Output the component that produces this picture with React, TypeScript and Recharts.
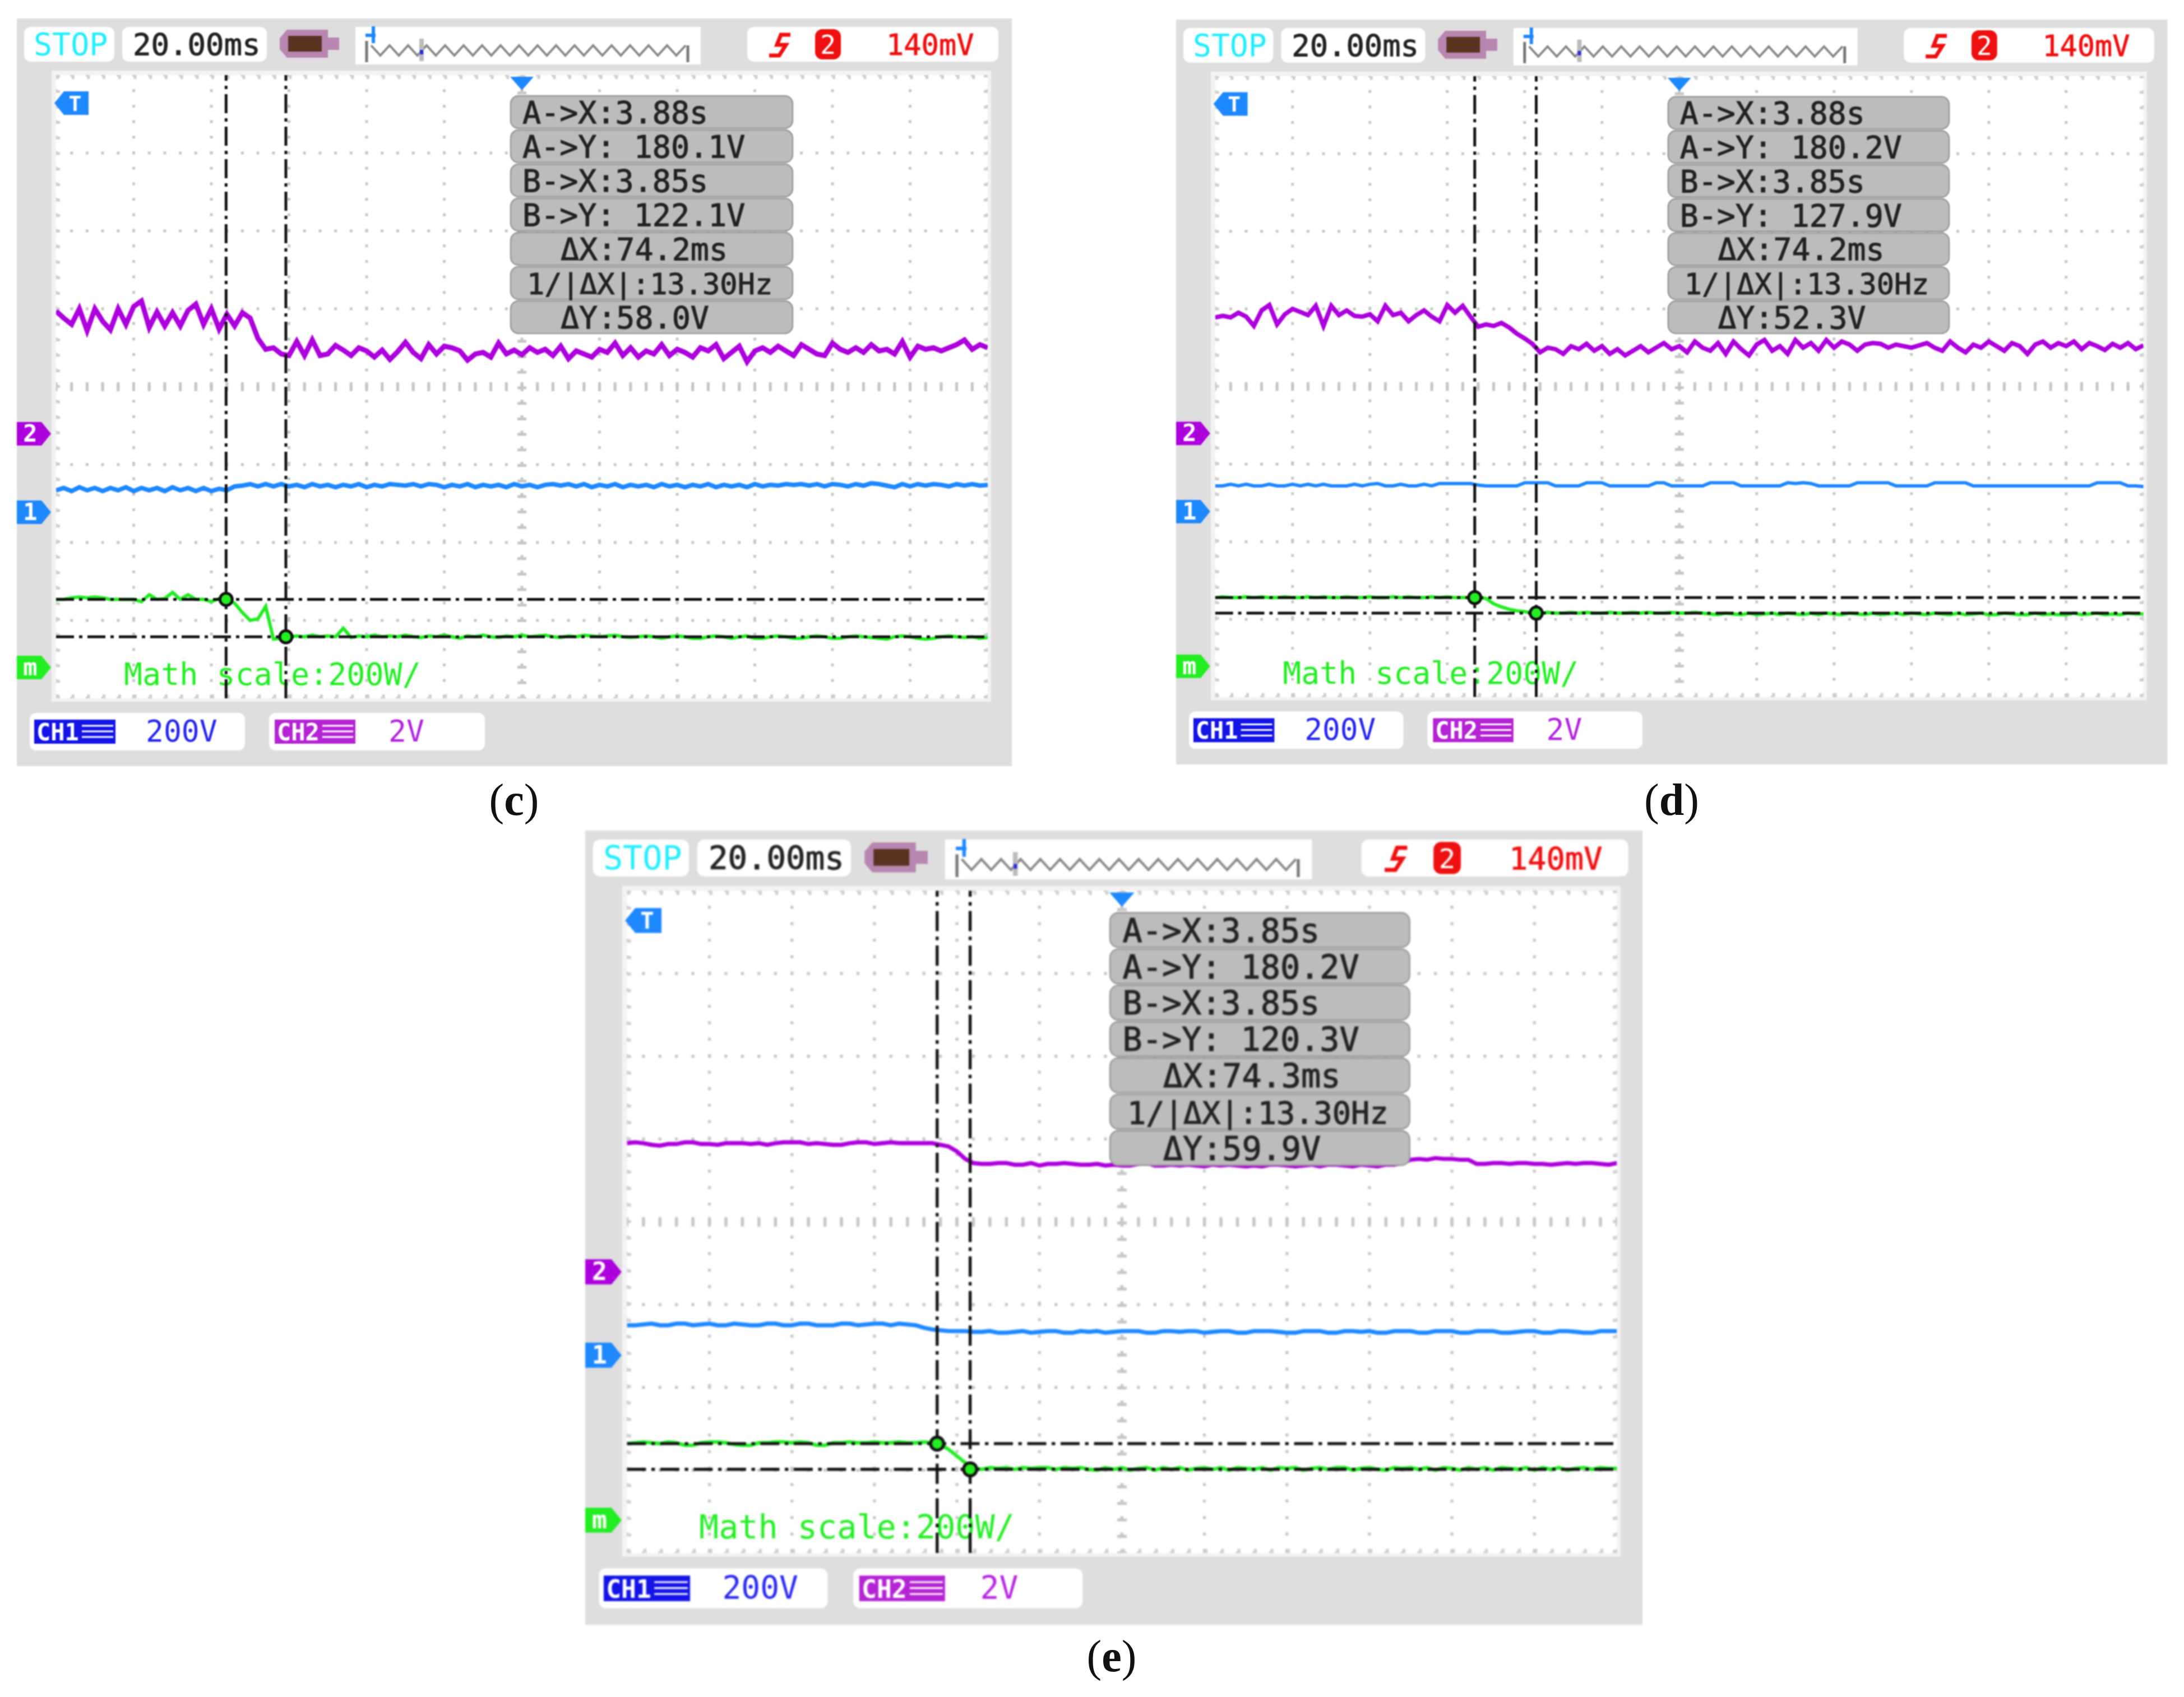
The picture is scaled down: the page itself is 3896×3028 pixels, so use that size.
import { LineChart, Line, XAxis, YAxis, CartesianGrid, ReferenceLine } from "recharts";

// all trace values are in screen divisions (12 x 8 scope grid), one sample per 0.1 div
const SAMPLES_PER_DIV = 10;
const xTicks = [0, 1, 2, 3, 4, 5, 6, 7, 8, 9, 10, 11, 12];
const yTicks = [0, 1, 2, 3, 4, 5, 6, 7, 8];

const cPurple = [
  4.97, 4.88, 4.8, 5.0, 4.72, 5.0, 4.84, 4.73, 5.0, 4.8,
  5.03, 5.1, 4.76, 4.96, 4.78, 4.95, 4.78, 4.98, 5.06, 4.8,
  5.0, 4.74, 4.93, 4.78, 4.95, 4.88, 4.62, 4.48, 4.5, 4.42,
  4.4, 4.58, 4.4, 4.6, 4.4, 4.42, 4.53, 4.47, 4.4, 4.5,
  4.46, 4.38, 4.47, 4.35, 4.45, 4.57, 4.44, 4.36, 4.54, 4.42,
  4.52, 4.5, 4.46, 4.34, 4.42, 4.44, 4.38, 4.56, 4.42, 4.47,
  4.41, 4.5, 4.44, 4.48, 4.4, 4.52, 4.36, 4.46, 4.42, 4.38,
  4.48, 4.44, 4.56, 4.4, 4.5, 4.38, 4.46, 4.42, 4.54, 4.4,
  4.48, 4.44, 4.38, 4.5, 4.46, 4.54, 4.36, 4.44, 4.52, 4.32,
  4.46, 4.5, 4.44, 4.52, 4.46, 4.4, 4.54, 4.48, 4.42, 4.4,
  4.56, 4.48, 4.44, 4.5, 4.44, 4.54, 4.46, 4.48, 4.42, 4.58,
  4.38, 4.52, 4.48, 4.5, 4.46, 4.5, 4.54, 4.6, 4.48, 4.54,
  4.5,
];
const cBlue = [
  2.67, 2.7, 2.66, 2.71, 2.67, 2.7, 2.66, 2.7, 2.67, 2.71,
  2.66, 2.7, 2.67, 2.7, 2.66, 2.71, 2.67, 2.7, 2.66, 2.7,
  2.66, 2.69, 2.67, 2.72, 2.73, 2.75, 2.72, 2.75, 2.72, 2.75,
  2.72, 2.74, 2.71, 2.75, 2.72, 2.74, 2.71, 2.74, 2.72, 2.75,
  2.71, 2.74, 2.72, 2.75, 2.74, 2.73, 2.75, 2.72, 2.75, 2.74,
  2.71, 2.74, 2.72, 2.75, 2.71, 2.74, 2.72, 2.74, 2.71, 2.75,
  2.72, 2.74, 2.71, 2.74, 2.75, 2.73, 2.75, 2.72, 2.75, 2.71,
  2.74, 2.72, 2.75, 2.71, 2.74, 2.72, 2.74, 2.71, 2.75, 2.72,
  2.74, 2.71, 2.74, 2.72, 2.75, 2.71, 2.74, 2.72, 2.74, 2.71,
  2.75, 2.72, 2.74, 2.73, 2.75, 2.74, 2.75, 2.73, 2.75, 2.72,
  2.75, 2.74, 2.72, 2.75, 2.73, 2.76, 2.75, 2.73, 2.71, 2.75,
  2.72, 2.75, 2.73, 2.75, 2.74, 2.72, 2.75, 2.73, 2.75, 2.73,
  2.74,
];
const cGreen = [
  1.27, 1.27, 1.29, 1.3, 1.29, 1.3, 1.29, 1.27, 1.27, 1.27,
  1.27, 1.24, 1.33, 1.27, 1.28, 1.36, 1.27, 1.33, 1.27, 1.27,
  1.24, 1.28, 1.27, 1.22, 1.1, 1.0, 1.02, 1.18, 0.76, 0.77,
  0.79, 0.8, 0.79, 0.81, 0.79, 0.8, 0.79, 0.9, 0.78, 0.8,
  0.79, 0.81, 0.79, 0.8, 0.79, 0.81, 0.79, 0.78, 0.8, 0.79,
  0.81, 0.79, 0.77, 0.8, 0.79, 0.81, 0.79, 0.78, 0.8, 0.79,
  0.81, 0.79, 0.8, 0.81, 0.79, 0.78, 0.8, 0.79, 0.81, 0.8,
  0.79, 0.8, 0.81, 0.79, 0.78, 0.79, 0.8, 0.79, 0.77, 0.79,
  0.8, 0.79, 0.77, 0.77, 0.79, 0.8, 0.79, 0.77, 0.79, 0.8,
  0.77, 0.77, 0.79, 0.8, 0.79, 0.77, 0.77, 0.79, 0.8, 0.79,
  0.77, 0.77, 0.79, 0.8, 0.79, 0.78, 0.77, 0.76, 0.79, 0.8,
  0.79, 0.77, 0.76, 0.77, 0.79, 0.8, 0.79, 0.78, 0.79, 0.77,
  0.78,
];

const dPurple = [
  4.89, 4.91, 4.89, 4.95, 4.9, 4.78, 4.98, 5.05, 4.8, 4.93,
  5.0, 4.96, 4.92, 5.04, 4.78, 5.04, 4.92, 4.98, 4.91, 4.9,
  4.93, 4.84, 5.04, 4.92, 4.95, 4.84, 4.92, 4.98, 4.9, 4.84,
  5.05, 4.95, 5.04, 4.9, 4.77, 4.8, 4.78, 4.82, 4.76, 4.68,
  4.62, 4.55, 4.44, 4.5, 4.48, 4.42, 4.52, 4.48, 4.55, 4.46,
  4.52, 4.42, 4.48, 4.4, 4.46, 4.52, 4.44, 4.5, 4.56, 4.48,
  4.52, 4.44, 4.58, 4.5, 4.46, 4.56, 4.42, 4.58, 4.48, 4.4,
  4.54, 4.6, 4.46, 4.52, 4.42, 4.6, 4.5, 4.56, 4.46, 4.6,
  4.5, 4.58, 4.54, 4.46, 4.54, 4.56, 4.55, 4.5, 4.54, 4.52,
  4.5, 4.53, 4.56, 4.5, 4.46, 4.58, 4.5, 4.44, 4.54, 4.5,
  4.58, 4.52, 4.46, 4.56, 4.52, 4.42, 4.54, 4.58, 4.5, 4.56,
  4.52, 4.58, 4.48, 4.56, 4.52, 4.47, 4.55, 4.5, 4.56, 4.48,
  4.53,
];
const dBlue = [
  2.72, 2.72, 2.74, 2.72, 2.74, 2.72, 2.72, 2.74, 2.72, 2.72,
  2.74, 2.72, 2.74, 2.72, 2.74, 2.72, 2.72, 2.72, 2.74, 2.72,
  2.74, 2.75, 2.72, 2.72, 2.74, 2.72, 2.72, 2.74, 2.72, 2.75,
  2.75, 2.75, 2.75, 2.75, 2.73, 2.72, 2.72, 2.72, 2.72, 2.72,
  2.76, 2.76, 2.76, 2.76, 2.72, 2.72, 2.72, 2.72, 2.76, 2.76,
  2.76, 2.72, 2.72, 2.72, 2.72, 2.72, 2.72, 2.76, 2.76, 2.72,
  2.72, 2.72, 2.72, 2.72, 2.76, 2.76, 2.76, 2.76, 2.72, 2.72,
  2.72, 2.72, 2.72, 2.72, 2.76, 2.75, 2.76, 2.75, 2.72, 2.72,
  2.72, 2.72, 2.72, 2.76, 2.76, 2.76, 2.76, 2.76, 2.72, 2.72,
  2.72, 2.72, 2.72, 2.76, 2.76, 2.76, 2.76, 2.76, 2.72, 2.72,
  2.72, 2.72, 2.72, 2.72, 2.72, 2.72, 2.72, 2.72, 2.72, 2.72,
  2.72, 2.72, 2.72, 2.72, 2.76, 2.76, 2.76, 2.76, 2.72, 2.72,
  2.71,
];
const dGreen = [
  1.28, 1.29, 1.28, 1.28, 1.29, 1.28, 1.29, 1.28, 1.28, 1.29,
  1.28, 1.28, 1.29, 1.28, 1.29, 1.28, 1.28, 1.29, 1.28, 1.28,
  1.29, 1.28, 1.28, 1.29, 1.28, 1.29, 1.28, 1.28, 1.29, 1.28,
  1.29, 1.28, 1.28, 1.28, 1.28, 1.27, 1.2, 1.16, 1.13, 1.11,
  1.1, 1.08, 1.08, 1.09, 1.08, 1.08, 1.09, 1.08, 1.09, 1.08,
  1.08, 1.09, 1.08, 1.08, 1.09, 1.08, 1.09, 1.08, 1.08, 1.09,
  1.08, 1.08, 1.09, 1.08, 1.07, 1.06, 1.08, 1.07, 1.06, 1.08,
  1.06, 1.07, 1.08, 1.06, 1.08, 1.07, 1.06, 1.08, 1.06, 1.08,
  1.07, 1.06, 1.08, 1.07, 1.06, 1.08, 1.06, 1.07, 1.08, 1.06,
  1.08, 1.07, 1.06, 1.08, 1.07, 1.06, 1.08, 1.06, 1.07, 1.08,
  1.06, 1.06, 1.08, 1.07, 1.06, 1.06, 1.08, 1.06, 1.07, 1.06,
  1.06, 1.08, 1.06, 1.07, 1.08, 1.06, 1.07, 1.06, 1.08, 1.07,
  1.07,
];

const ePurple = [
  4.95, 4.96, 4.95, 4.93, 4.92, 4.94, 4.94, 4.96, 4.96, 4.94,
  4.94, 4.93, 4.95, 4.95, 4.95, 4.94, 4.95, 4.93, 4.95, 4.96,
  4.96, 4.96, 4.94, 4.95, 4.94, 4.93, 4.93, 4.95, 4.96, 4.96,
  4.94, 4.95, 4.96, 4.95, 4.95, 4.95, 4.95, 4.95, 4.93, 4.91,
  4.85, 4.76, 4.71, 4.7, 4.7, 4.71, 4.71, 4.69, 4.69, 4.71,
  4.68, 4.7, 4.7, 4.71, 4.7, 4.69, 4.69, 4.7, 4.68, 4.69,
  4.68, 4.68, 4.7, 4.71, 4.68, 4.68, 4.69, 4.68, 4.69, 4.68,
  4.67, 4.69, 4.68, 4.69, 4.68, 4.67, 4.68, 4.67, 4.69, 4.69,
  4.68, 4.67, 4.68, 4.69, 4.67, 4.69, 4.69, 4.68, 4.67, 4.69,
  4.68, 4.67, 4.69, 4.69, 4.71, 4.75, 4.76, 4.75, 4.77, 4.76,
  4.76, 4.75, 4.75, 4.7, 4.7, 4.71, 4.71, 4.7, 4.71, 4.71,
  4.7, 4.7, 4.69, 4.7, 4.71, 4.7, 4.71, 4.71, 4.7, 4.69,
  4.71,
];
const eBlue = [
  2.75, 2.75, 2.76, 2.77, 2.75, 2.75, 2.77, 2.77, 2.75, 2.76,
  2.77, 2.75, 2.75, 2.77, 2.76, 2.75, 2.75, 2.77, 2.77, 2.75,
  2.75, 2.77, 2.77, 2.75, 2.75, 2.75, 2.77, 2.77, 2.75, 2.76,
  2.77, 2.77, 2.75, 2.77, 2.76, 2.75, 2.72, 2.7, 2.69, 2.68,
  2.68, 2.68, 2.67, 2.67, 2.68, 2.66, 2.66, 2.67, 2.68, 2.66,
  2.67, 2.68, 2.68, 2.66, 2.66, 2.68, 2.67, 2.68, 2.66, 2.67,
  2.68, 2.68, 2.68, 2.66, 2.66, 2.68, 2.68, 2.67, 2.68, 2.68,
  2.66, 2.67, 2.68, 2.68, 2.66, 2.66, 2.68, 2.68, 2.68, 2.67,
  2.66, 2.66, 2.68, 2.68, 2.68, 2.66, 2.66, 2.68, 2.68, 2.67,
  2.68, 2.66, 2.66, 2.68, 2.68, 2.68, 2.66, 2.66, 2.68, 2.68,
  2.68, 2.66, 2.66, 2.68, 2.68, 2.68, 2.66, 2.66, 2.67, 2.68,
  2.68, 2.66, 2.66, 2.68, 2.68, 2.67, 2.66, 2.66, 2.68, 2.68,
  2.68,
];
const eGreen = [
  1.32, 1.33, 1.34, 1.33, 1.32, 1.34, 1.33, 1.3, 1.3, 1.33,
  1.34, 1.34, 1.33, 1.31, 1.3, 1.3, 1.33, 1.33, 1.34, 1.34,
  1.33, 1.34, 1.33, 1.3, 1.3, 1.33, 1.33, 1.34, 1.33, 1.33,
  1.34, 1.33, 1.33, 1.34, 1.33, 1.33, 1.34, 1.33, 1.31, 1.25,
  1.17, 1.09, 1.03, 1.01, 1.03, 1.02, 1.03, 1.01, 1.03, 1.02,
  1.03, 1.03, 1.01, 1.03, 1.02, 1.03, 1.01, 1.0, 1.03, 1.01,
  1.03, 1.0, 1.02, 1.03, 1.0, 1.03, 1.01, 1.03, 1.0, 1.02,
  1.03, 1.01, 1.03, 1.0, 1.03, 1.02, 1.01, 1.03, 1.0, 1.03,
  1.02, 1.03, 1.0, 1.02, 1.03, 1.01, 1.03, 1.03, 1.0, 1.02,
  1.03, 1.01, 1.0, 1.03, 1.02, 1.03, 1.01, 1.03, 1.0, 1.03,
  1.02, 1.0, 1.03, 1.01, 1.03, 1.0, 1.03, 1.02, 1.01, 1.03,
  1.0, 1.03, 1.01, 1.03, 1.0, 1.02, 1.03, 1.01, 1.03, 1.02,
  1.02,
];

// cursors: two vertical (x) and two horizontal (y), in divisions
const cCursorsX = [2.19, 2.96];
const cCursorsY = [1.27, 0.79];
const dCursorsX = [3.355, 4.15];
const dCursorsY = [1.28, 1.08];
const eCursorsX = [3.76, 4.16];
const eCursorsY = [1.32, 1.01];

const cReadout = ["A->X:3.88s", "A->Y: 180.1V", "B->X:3.85s", "B->Y: 122.1V", "ΔX:74.2ms", "1/|ΔX|:13.30Hz", "ΔY:58.0V"];
const dReadout = ["A->X:3.88s", "A->Y: 180.2V", "B->X:3.85s", "B->Y: 127.9V", "ΔX:74.2ms", "1/|ΔX|:13.30Hz", "ΔY:52.3V"];
const eReadout = ["A->X:3.85s", "A->Y: 180.2V", "B->X:3.85s", "B->Y: 120.3V", "ΔX:74.3ms", "1/|ΔX|:13.30Hz", "ΔY:59.9V"];

const MONO = "'DejaVu Sans Mono', monospace";
const BLUE = "#1e88ff";
const PURPLE = "#ac00dc";
const GREEN = "#22ee22";
const GRID = "#c6c6c6";
const PANEL_W = 1775;
const PANEL_H = 1334;
const PLOT = { x: 70, y: 101, w: 1662, h: 1112 };
const DIV_DOT = "5 22.7";

const toRows = (values: number[]) => values.map((y, i) => ({ x: i / SAMPLES_PER_DIV, y }));

const Flag = ({ cy, color, label }: { cy: number; color: string; label: string }) => (
  <g>
    <polygon points={`0,${cy - 21} 44,${cy - 21} 61,${cy} 44,${cy + 21} 0,${cy + 21}`} fill={color} />
    <text x={24} y={cy + 14} textAnchor="middle" fontFamily={MONO} fontSize={42} fontWeight={700} fill="#fff">{label}</text>
  </g>
);

/** ゼロ位置のフラグや上段のステータスバーなど、波形の下に敷く部分 */
const PanelBack = () => {
  const zig: string[] = [];
  for (let i = 0; i <= 34; i++) zig.push(`${632 + i * 16.5},${i % 2 ? 66 : 48}`);
  return (
    <svg width={PANEL_W} height={PANEL_H} style={{ position: "absolute", left: 0, top: 0 }}>
      <rect width={PANEL_W} height={PANEL_H} fill="#dedede" />
      <rect x={13} y={15} width={161} height={62} rx={12} fill="#fff" />
      <text x={30} y={65} fontFamily={MONO} fontSize={55} fill="#22eeff">STOP</text>
      <rect x={188} y={15} width={258} height={62} rx={12} fill="#fff" />
      <text x={207} y={65} fontFamily={MONO} fontSize={54} stroke="#222" strokeWidth={1} fill="#222">20.00ms</text>
      <polygon points="469,35 482,20 555,20 555,34 575,34 575,56 555,56 555,70 482,70 469,55" fill="#b886b0" />
      <rect x={484} y={31} width={60} height={28} fill="#5a3220" />
      <rect x={604} y={15} width={616} height={67} fill="#fff" />
      <polyline points={zig.join(" ")} fill="none" stroke="#888" strokeWidth={4} />
      <path d="M624 40 V78 M1197 48 V78" stroke="#777" strokeWidth={5} fill="none" />
      <path d="M622 30 H640 M636 14 V44" stroke={BLUE} strokeWidth={6} fill="none" />
      <path d="M722 36 V76" stroke="#bbb" strokeWidth={8} />
      <rect x={719} y={56} width={6} height={8} fill="#2a2ae0" />
      <rect x={1303} y={15} width={448} height={62} rx={12} fill="#fff" />
      <path d="M1380 29 H1363 L1356 47 H1372 L1360 66 H1342" stroke="#ee1010" strokeWidth={7} fill="none" />
      <rect x={1424} y={19} width={46} height={54} rx={13} fill="#ee1010" />
      <text x={1447} y={63} textAnchor="middle" fontFamily={MONO} fontSize={46} fill="#fff">2</text>
      <text x={1551} y={65} fontFamily={MONO} fontSize={52} stroke="#ee1010" strokeWidth={0.8} fill="#ee1010">140mV</text>
      <rect x={PLOT.x - 8} y={PLOT.y - 8} width={PLOT.w + 14} height={PLOT.h + 14} fill="#f3f3f3" />
      <rect x={PLOT.x} y={PLOT.y} width={PLOT.w} height={PLOT.h} fill="#fff" />
      <Flag cy={741} color={PURPLE} label="2" />
      <Flag cy={881} color={BLUE} label="1" />
      <Flag cy={1158} color={GREEN} label="m" />
      <text x={191} y={1189} fontFamily={MONO} fontSize={55} fill={GREEN}>Math scale:200W/</text>
      <rect x={23} y={1239} width={384} height={67} rx={12} fill="#fff" />
      <rect x={31} y={1251} width={145} height={43} fill="#1414e6" />
      <text x={35} y={1288} fontFamily={MONO} fontSize={42} fontWeight={700} fill="#fff">CH1</text>
      <path d="M116 1262 H172 M116 1272 H172 M116 1282 H172" stroke="#fff" strokeWidth={3} />
      <text x={230} y={1290} fontFamily={MONO} fontSize={53} fill="#2626f0">200V</text>
      <rect x={450} y={1239} width={385} height={67} rx={12} fill="#fff" />
      <rect x={460} y={1251} width={144} height={43} fill="#b424d4" />
      <text x={464} y={1288} fontFamily={MONO} fontSize={42} fontWeight={700} fill="#fff">CH2</text>
      <path d="M545 1262 H600 M545 1272 H600 M545 1282 H600" stroke="#fff" strokeWidth={3} />
      <text x={663} y={1290} fontFamily={MONO} fontSize={53} fill="#b424e0">2V</text>
    </svg>
  );
};

/** カーソル読み取り値のピル。波形の上に重なる */
const PanelFront = ({ readout }: { readout: string[] }) => (
  <svg width={PANEL_W} height={PANEL_H} style={{ position: "absolute", left: 0, top: 0 }}>
    <polygon points="880,104 922,104 901,128" fill={BLUE} />
    <polygon points="67,151 84,130 128,130 128,172 84,172" fill={BLUE} />
    <text x={104} y={165} textAnchor="middle" fontFamily={MONO} fontSize={38} fontWeight={700} fill="#fff">T</text>
    {readout.map((row, i) => {
      const y = 138 + i * 61;
      const indent = row.startsWith("Δ") ? 89 : row.startsWith("1") ? 29 : 21;
      return (
        <g key={row + i}>
          <rect x={881} y={y} width={503} height={58} rx={14} fill="#bcbcbc" stroke="#9a9a9a" strokeWidth={2.5} />
          <text x={881 + indent} y={y + 49} fontFamily={MONO} fontSize={row.startsWith("1") ? 52 : 55} stroke="#222" strokeWidth={1} fill="#222">{row}</text>
        </g>
      );
    })}
  </svg>
);

type PanelProps = {
  left: number;
  top: number;
  scale: number;
  purple: number[];
  blue: number[];
  green: number[];
  cursorsX: number[];
  cursorsY: number[];
  readout: string[];
  purpleWidth: number;
  blueWidth: number;
};

const ScopePanel = ({ left, top, scale, purple, blue, green, cursorsX, cursorsY, readout, purpleWidth, blueWidth }: PanelProps) => (
  <div style={{ position: "absolute", left, top, width: PANEL_W, height: PANEL_H, transform: `scale(${scale})`, transformOrigin: "0 0", filter: "blur(1.3px)" }}>
    <PanelBack />
    <div style={{ position: "absolute", left: PLOT.x, top: PLOT.y }}>
      <LineChart width={PLOT.w} height={PLOT.h} margin={{ top: 0, right: 0, bottom: 0, left: 0 }}>
        <XAxis type="number" dataKey="x" domain={[0, 12]} ticks={xTicks} hide />
        <YAxis type="number" dataKey="y" domain={[0, 8]} ticks={yTicks} hide />
        <CartesianGrid stroke={GRID} strokeWidth={5} strokeDasharray={DIV_DOT} strokeDashoffset={2.5} />
        <ReferenceLine x={0} stroke="#cfcfcf" strokeWidth={14} strokeDasharray={DIV_DOT} />
        <ReferenceLine x={12} stroke="#cfcfcf" strokeWidth={14} strokeDasharray={DIV_DOT} />
        <ReferenceLine y={0} stroke="#cfcfcf" strokeWidth={14} strokeDasharray={DIV_DOT} />
        <ReferenceLine y={8} stroke="#cfcfcf" strokeWidth={14} strokeDasharray={DIV_DOT} />
        <ReferenceLine x={6} stroke={GRID} strokeWidth={16} strokeDasharray={DIV_DOT} strokeDashoffset={2.5} />
        <ReferenceLine y={4} stroke={GRID} strokeWidth={16} strokeDasharray={DIV_DOT} strokeDashoffset={2.5} />
        <Line data={toRows(purple)} dataKey="y" stroke={PURPLE} strokeWidth={purpleWidth} dot={false} isAnimationActive={false} />
        <Line data={toRows(blue)} dataKey="y" stroke={BLUE} strokeWidth={blueWidth} dot={false} isAnimationActive={false} />
        <Line data={toRows(green)} dataKey="y" stroke={GREEN} strokeWidth={6} dot={false} isAnimationActive={false} />
        {cursorsX.map((x) => (
          <Line key={`vx${x}`} data={[{ x, y: 0 }, { x, y: 8 }]} dataKey="y" stroke="#111" strokeWidth={5} strokeDasharray="34 9 6 9" dot={false} isAnimationActive={false} />
        ))}
        {cursorsY.map((y) => (
          <Line key={`hy${y}`} data={[{ x: 0, y }, { x: 12, y }]} dataKey="y" stroke="#111" strokeWidth={5} strokeDasharray="32 9 6 9" dot={false} isAnimationActive={false} />
        ))}
        {cursorsX.map((x, i) => (
          <Line key={`mk${x}`} data={[{ x, y: cursorsY[i] }]} dataKey="y" stroke="none" dot={{ r: 11, fill: GREEN, stroke: "#111", strokeWidth: 5 }} isAnimationActive={false} />
        ))}
      </LineChart>
    </div>
    <PanelFront readout={readout} />
  </div>
);

const Caption = ({ x, y, letter }: { x: number; y: number; letter: string }) => (
  <div style={{ position: "absolute", left: x - 100, top: y, width: 200, textAlign: "center", fontFamily: "'Liberation Serif', serif", fontSize: 80, lineHeight: 1, color: "#111" }}>
    (<b>{letter}</b>)
  </div>
);

export default function App() {
  return (
    <div style={{ position: "absolute", left: 0, top: 0, width: 3896, height: 3028, background: "#fff", overflow: "hidden" }}>
      <ScopePanel left={30} top={33} scale={1} purple={cPurple} blue={cBlue} green={cGreen} cursorsX={cCursorsX} cursorsY={cCursorsY} readout={cReadout} purpleWidth={9} blueWidth={8} />
      <ScopePanel left={2098} top={35} scale={0.9964} purple={dPurple} blue={dBlue} green={dGreen} cursorsX={dCursorsX} cursorsY={dCursorsY} readout={dReadout} purpleWidth={8} blueWidth={6} />
      <ScopePanel left={1044} top={1482} scale={1.0626} purple={ePurple} blue={eBlue} green={eGreen} cursorsX={eCursorsX} cursorsY={eCursorsY} readout={eReadout} purpleWidth={7} blueWidth={7} />
      <Caption x={917} y={1387} letter="c" />
      <Caption x={2982} y={1387} letter="d" />
      <Caption x={1983} y={2915} letter="e" />
    </div>
  );
}
